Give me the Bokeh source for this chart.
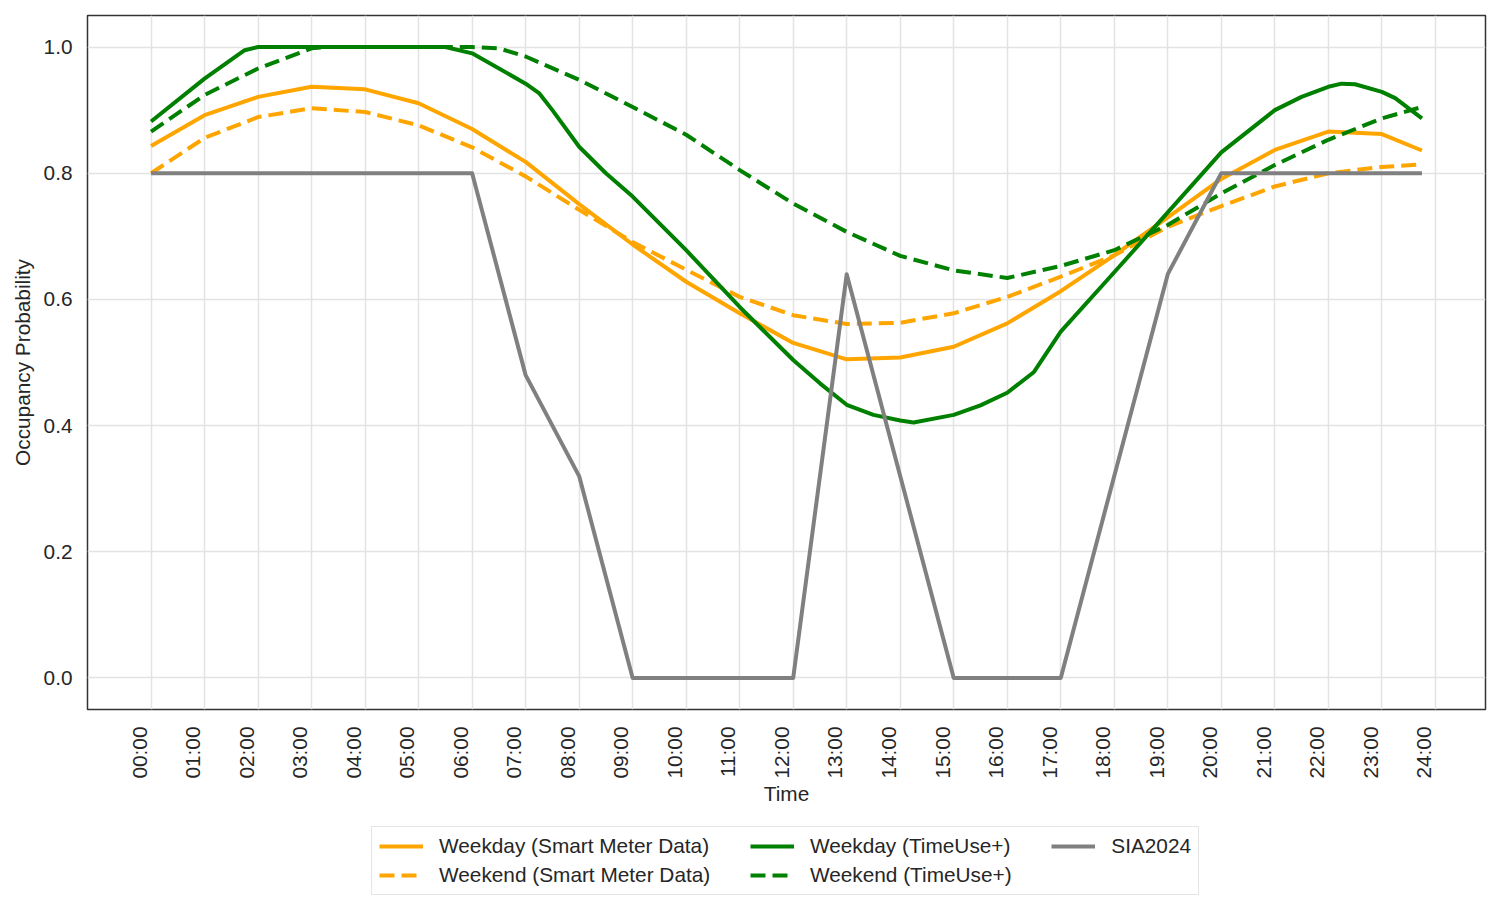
import math
from bokeh.plotting import figure
from bokeh.layouts import column
from bokeh.models import Range1d, FixedTicker, Legend, LegendItem, NumeralTickFormatter
from bokeh.embed import file_html
from bokeh.resources import INLINE

# time of day in hours (profile ends at 23:45)
hours = [0, 1, 2, 3, 4, 5, 6, 7, 8, 9, 10, 11, 12,
         13, 14, 15, 16, 17, 18, 19, 20, 21, 22, 23, 23.75]

weekday_sm = [0.843, 0.892, 0.921, 0.937, 0.933, 0.911, 0.870, 0.818, 0.751, 0.687, 0.628, 0.578, 0.531,
              0.505, 0.508, 0.525, 0.562, 0.613, 0.670, 0.730, 0.791, 0.837, 0.866, 0.862, 0.836]
weekend_sm = [0.800, 0.856, 0.889, 0.903, 0.897, 0.876, 0.841, 0.795, 0.742, 0.691, 0.647, 0.604, 0.575,
              0.561, 0.563, 0.578, 0.604, 0.636, 0.670, 0.715, 0.748, 0.779, 0.800, 0.810, 0.814]

tu_weekday_hours = [0, 1, 1.75, 2, 3, 4, 5, 5.5, 6, 7, 7.25, 7.5, 8, 8.5, 9, 10, 11, 12, 12.5,
                    13, 13.5, 14, 14.25, 15, 15.5, 16, 16.5, 17, 18, 19, 20, 21, 21.5, 22, 22.25,
                    22.5, 23, 23.25, 23.75]
weekday_tu = [0.882, 0.950, 0.995, 1.0, 1.0, 1.0, 1.0, 1.0, 0.990, 0.942, 0.927, 0.900, 0.842, 0.800, 0.763,
              0.678, 0.588, 0.504, 0.467, 0.433, 0.417, 0.408, 0.405, 0.417, 0.432, 0.452, 0.485, 0.549,
              0.643, 0.738, 0.833, 0.900, 0.921, 0.937, 0.942, 0.941, 0.929, 0.919, 0.887]

tu_weekend_hours = [0, 1, 2, 3, 3.25, 4, 5, 6, 6.5, 7, 8, 9, 10, 11, 12,
                    13, 14, 15, 16, 17, 18, 19, 20, 21, 22, 23, 23.75]
weekend_tu = [0.866, 0.924, 0.966, 0.998, 1.0, 1.0, 1.0, 1.0, 0.998, 0.985, 0.948, 0.905, 0.861, 0.805, 0.752,
              0.707, 0.669, 0.646, 0.634, 0.653, 0.678, 0.718, 0.768, 0.813, 0.853, 0.887, 0.905]

sia2024 = [0.8, 0.8, 0.8, 0.8, 0.8, 0.8, 0.8, 0.48, 0.32, 0.0, 0.0, 0.0, 0.0,
           0.64, 0.32, 0.0, 0.0, 0.0, 0.32, 0.64, 0.8, 0.8, 0.8, 0.8, 0.8]

tick_hours = list(range(25))
tick_labels = ["%02d:00" % h for h in tick_hours]

FONT = "Liberation Sans"
TXT = "#262626"
FS = "20.8px"
DASH = "15 7"

p = figure(frame_width=1398, frame_height=694,
           x_range=Range1d(-1.1875, 24.9375), y_range=Range1d(-0.05, 1.05),
           output_backend="svg", toolbar_location=None,
           min_border_left=87, min_border_top=15, min_border_right=7, min_border_bottom=100)
p.outline_line_color = "#333333"
p.outline_line_width = 1.5

p.line(hours, weekday_sm, line_color="orange", line_width=4, line_join="round")
p.line(hours, weekend_sm, line_color="orange", line_width=4, line_dash=DASH)
p.line(tu_weekday_hours, weekday_tu, line_color="green", line_width=4, line_join="round")
p.line(tu_weekend_hours, weekend_tu, line_color="green", line_width=4, line_dash=DASH)
p.line(hours, sia2024, line_color="gray", line_width=4, line_join="round")

# x labels sit slightly left of their grid line, as in the original
shift = 14 / 64
p.xaxis.ticker = FixedTicker(ticks=[h - shift for h in tick_hours])
p.xaxis.major_label_overrides = {h - shift: lab for h, lab in zip(tick_hours, tick_labels)}
p.xaxis.major_label_orientation = math.pi / 2
p.xgrid.ticker = FixedTicker(ticks=tick_hours)

p.yaxis.ticker = FixedTicker(ticks=[0.0, 0.2, 0.4, 0.6, 0.8, 1.0])
p.yaxis.formatter = NumeralTickFormatter(format="0.0")

p.xaxis.axis_label = "Time"
p.yaxis.axis_label = "Occupancy Probability"
for ax in (p.xaxis, p.yaxis):
    ax.axis_line_color = None
    ax.major_tick_line_color = None
    ax.minor_tick_line_color = None
    ax.major_tick_out = 0
    ax.major_tick_in = 0
    ax.minor_tick_out = 0
    ax.major_label_text_font = FONT
    ax.major_label_text_font_size = FS
    ax.major_label_text_color = TXT
    ax.axis_label_text_font = FONT
    ax.axis_label_text_font_size = FS
    ax.axis_label_text_font_style = "normal"
    ax.axis_label_text_color = TXT
p.xaxis.major_label_standoff = 17
p.xaxis.axis_label_standoff = 0
p.yaxis.major_label_standoff = 15
p.yaxis.axis_label_standoff = 7

for g in (p.xgrid, p.ygrid):
    g.grid_line_color = "#e3e3e3"
    g.grid_line_width = 1.5

## Legend strip under the chart (same series, hidden lines used as legend keys)
leg = figure(width=1492, height=100, x_range=Range1d(-1.1875, 24.9375), y_range=Range1d(-0.05, 1.05),
             x_axis_type=None, y_axis_type=None, output_backend="svg", toolbar_location=None,
             min_border=0, outline_line_color=None)
k1 = leg.line(hours, weekday_sm, line_color="orange", line_width=4, visible=False)
k2 = leg.line(hours, weekend_sm, line_color="orange", line_width=4, line_dash=DASH, visible=False)
k3 = leg.line(tu_weekday_hours, weekday_tu, line_color="green", line_width=4, visible=False)
k4 = leg.line(tu_weekend_hours, weekend_tu, line_color="green", line_width=4, line_dash=DASH, visible=False)
k5 = leg.line(hours, sia2024, line_color="gray", line_width=4, visible=False)

# row-first fill, 3 columns; trailing no-break spaces widen the column gaps
pad = "\u00a0" * 6
legend = Legend(items=[
    LegendItem(label="Weekday (Smart Meter Data)", renderers=[k1]),
    LegendItem(label="Weekday (TimeUse+)", renderers=[k3]),
    LegendItem(label="SIA2024", renderers=[k5]),
    LegendItem(label="Weekend (Smart Meter Data)" + pad, renderers=[k2]),
    LegendItem(label="Weekend (TimeUse+)" + pad, renderers=[k4]),
], orientation="horizontal", ncols=3, location=(284, 14))
legend.label_text_font = FONT
legend.label_text_font_size = FS
legend.label_text_color = TXT
legend.glyph_width = 44
legend.glyph_height = 24
legend.label_standoff = 16
legend.spacing = 5
legend.padding = 7
legend.margin = 0
legend.inactive_fill_alpha = 0
legend.border_line_color = "#cccccc"
legend.border_line_width = 1.5
leg.add_layout(legend)

open("out.html", "w").write(file_html(column(p, leg), INLINE))
